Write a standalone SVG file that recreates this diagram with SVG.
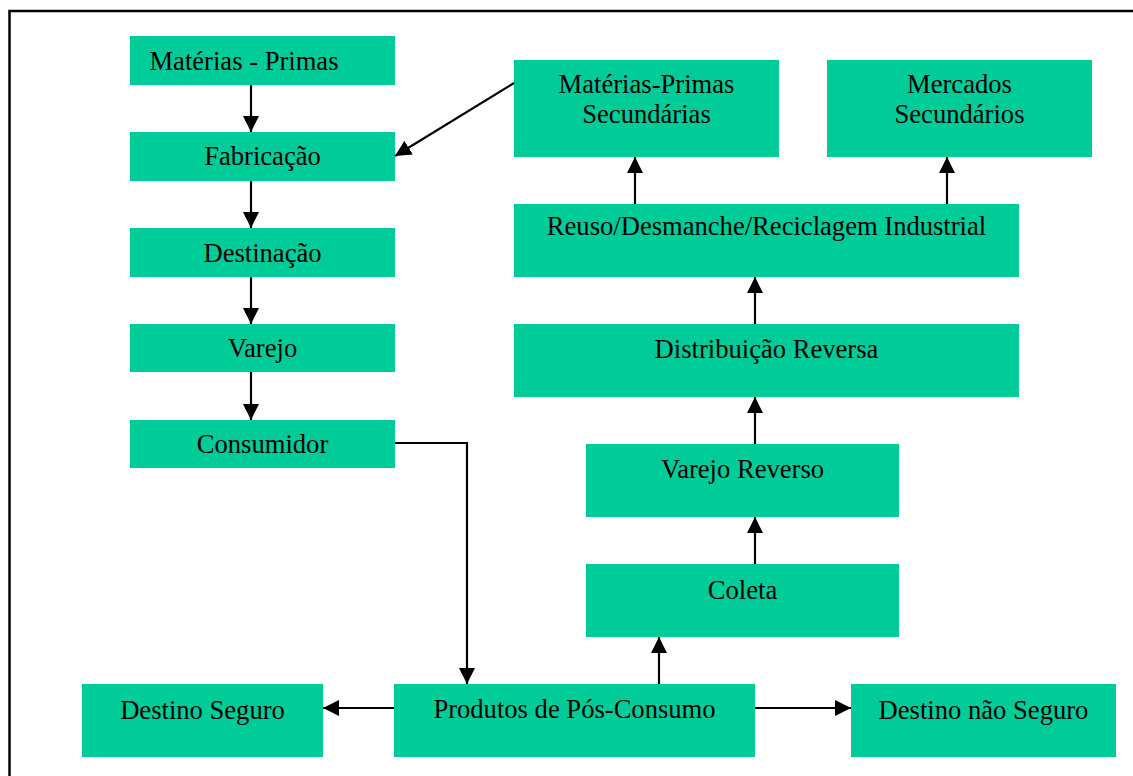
<svg xmlns="http://www.w3.org/2000/svg" width="1133" height="776" viewBox="0 0 1133 776">
<defs>
<style>
.box{fill:#00CC99;}
.t{font-family:"Liberation Serif","Times New Roman",serif;font-size:26.6px;fill:#000;text-anchor:middle;}
.c{stroke:#000;stroke-width:2.2;fill:none;}
</style>
<marker id="ah" markerUnits="userSpaceOnUse" markerWidth="17" markerHeight="16" viewBox="0 0 17 16" refX="16" refY="8" orient="auto">
<path d="M0,0 L16,8 L0,16 z" fill="#000"/>
</marker>
</defs>
<rect x="0" y="0" width="1133" height="776" fill="#fff"/>
<rect x="9.5" y="11" width="1200" height="1000" fill="none" stroke="#000" stroke-width="2.5"/>

<g id="n-materias-primas"><rect class="box" x="130" y="36" width="265" height="49"/><text class="t" x="244" y="70">Matérias - Primas</text></g>
<g id="n-fabricacao"><rect class="box" x="130" y="132" width="265" height="49"/><text class="t" x="262.5" y="165">Fabricação</text></g>
<g id="n-destinacao"><rect class="box" x="130" y="228" width="265" height="49"/><text class="t" x="262.5" y="262">Destinação</text></g>
<g id="n-varejo"><rect class="box" x="130" y="324" width="265" height="48"/><text class="t" x="262.5" y="357">Varejo</text></g>
<g id="n-consumidor"><rect class="box" x="130" y="420" width="265" height="48"/><text class="t" x="262.5" y="453">Consumidor</text></g>
<g id="n-mps"><rect class="box" x="514" y="60" width="265" height="97"/><text class="t" x="646.5" y="93">Matérias-Primas</text><text class="t" x="646.5" y="123">Secundárias</text></g>
<g id="n-mercados"><rect class="box" x="827" y="60" width="265" height="97"/><text class="t" x="959.5" y="93">Mercados</text><text class="t" x="959.5" y="123">Secundários</text></g>
<g id="n-reuso"><rect class="box" x="514" y="204" width="505" height="73"/><text class="t" x="766.5" y="235">Reuso/Desmanche/Reciclagem Industrial</text></g>
<g id="n-distribuicao"><rect class="box" x="514" y="324" width="505" height="73"/><text class="t" x="766.5" y="358">Distribuição Reversa</text></g>
<g id="n-varejo-reverso"><rect class="box" x="586" y="444" width="313" height="73"/><text class="t" x="742.5" y="478">Varejo Reverso</text></g>
<g id="n-coleta"><rect class="box" x="586" y="564" width="313" height="73"/><text class="t" x="742.5" y="599">Coleta</text></g>
<g id="n-produtos"><rect class="box" x="394" y="684" width="361" height="73"/><text class="t" x="574.5" y="718">Produtos de Pós-Consumo</text></g>
<g id="n-destino-seguro"><rect class="box" x="82" y="684" width="241" height="73"/><text class="t" x="202.5" y="719">Destino Seguro</text></g>
<g id="n-destino-nao-seguro"><rect class="box" x="851" y="684" width="265" height="73"/><text class="t" x="983.5" y="719">Destino não Seguro</text></g>

<g id="connectors">
<line class="c" x1="251" y1="85" x2="251" y2="132" marker-end="url(#ah)"/>
<line class="c" x1="251" y1="181" x2="251" y2="228" marker-end="url(#ah)"/>
<line class="c" x1="251" y1="277" x2="251" y2="324" marker-end="url(#ah)"/>
<line class="c" x1="251" y1="372" x2="251" y2="420" marker-end="url(#ah)"/>
<line class="c" x1="514" y1="83" x2="395" y2="156" marker-end="url(#ah)"/>
<polyline class="c" points="395,443 467,443 467,684" marker-end="url(#ah)"/>
<line class="c" x1="659" y1="684" x2="659" y2="637" marker-end="url(#ah)"/>
<line class="c" x1="755" y1="564" x2="755" y2="517" marker-end="url(#ah)"/>
<line class="c" x1="755" y1="444" x2="755" y2="397" marker-end="url(#ah)"/>
<line class="c" x1="755" y1="324" x2="755" y2="277" marker-end="url(#ah)"/>
<line class="c" x1="635" y1="204" x2="635" y2="157" marker-end="url(#ah)"/>
<line class="c" x1="947" y1="204" x2="947" y2="157" marker-end="url(#ah)"/>
<line class="c" x1="394" y1="708" x2="323" y2="708" marker-end="url(#ah)"/>
<line class="c" x1="755" y1="708" x2="851" y2="708" marker-end="url(#ah)"/>
</g>
</svg>
